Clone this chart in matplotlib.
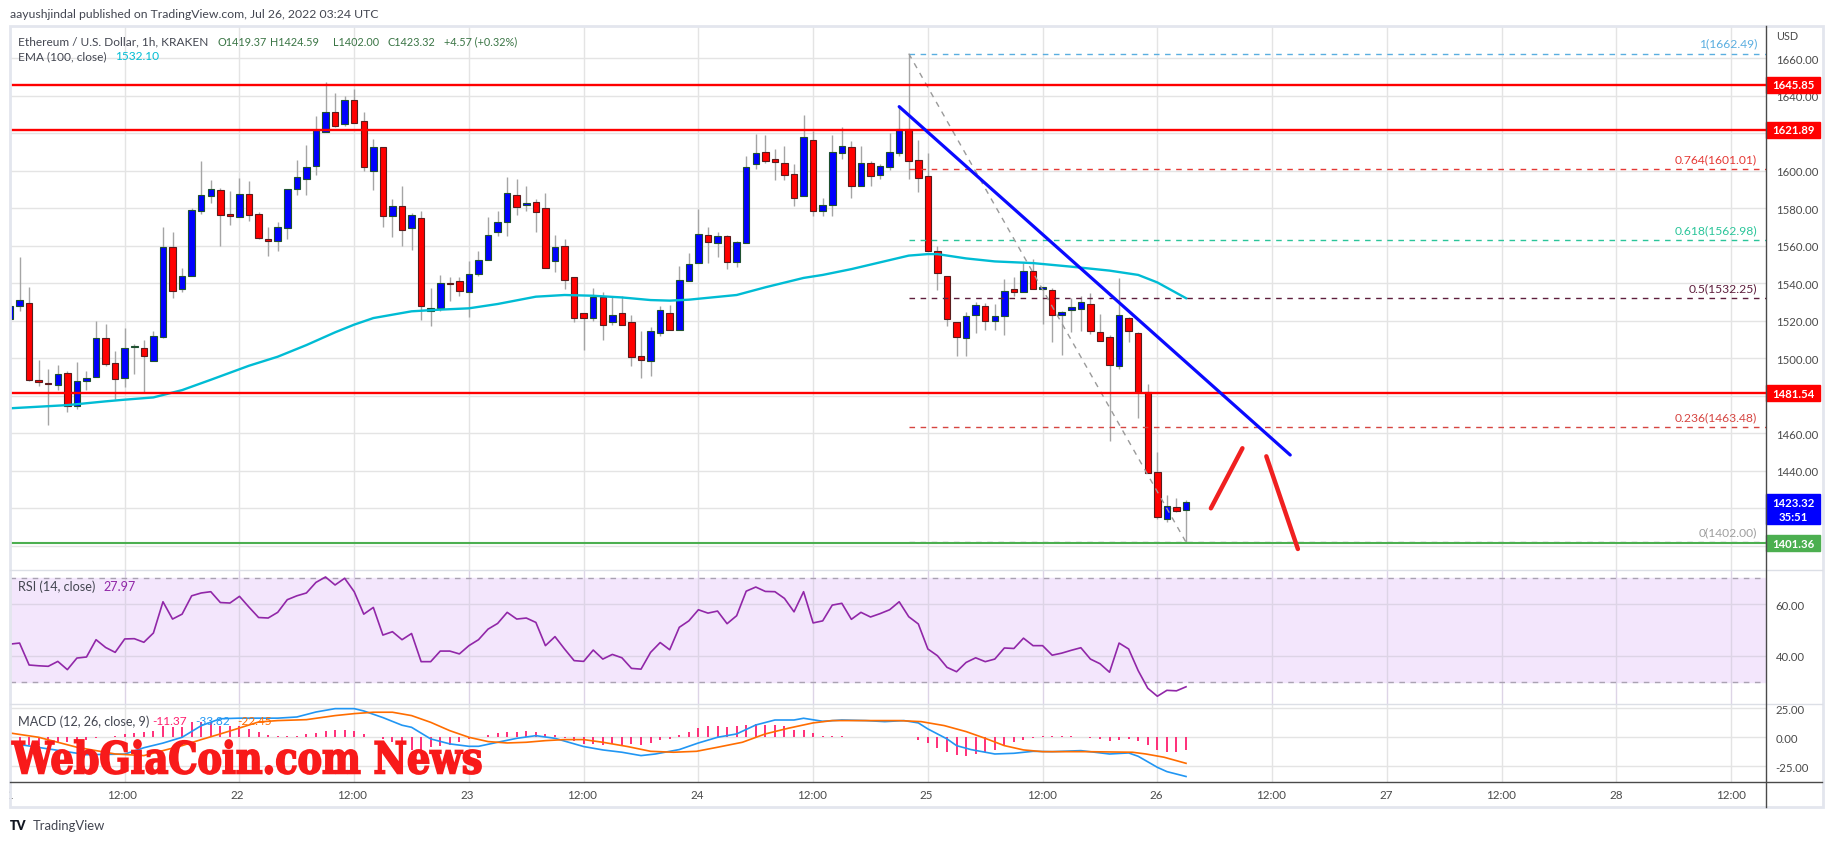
import numpy as np
import matplotlib.pyplot as plt
from matplotlib.patches import Rectangle, PathPatch
from matplotlib.lines import Line2D
from matplotlib.textpath import TextPath
from matplotlib.font_manager import FontProperties
from matplotlib import transforms as mtrans

W, H = 1834, 845

# hourly ETH/USD candles, 21 Jul 00:00 .. 26 Jul 03:00 (hour index from 21 Jul 00:00)
open_ = [1521.0, 1528.1, 1529.3, 1488.5, 1486.9, 1486.0, 1492.0, 1474.8, 1488.1, 1489.9,
         1510.8, 1497.4, 1489.4, 1505.9, 1505.4, 1498.8, 1511.6, 1559.2, 1537.0, 1544.1,
         1578.7, 1586.7, 1589.8, 1577.0, 1575.2, 1587.6, 1576.9, 1563.6, 1562.8, 1569.3,
         1590.3, 1595.6, 1602.4, 1620.5, 1631.2, 1625.0, 1637.9, 1626.7, 1600.1, 1612.5,
         1575.7, 1581.1, 1569.3, 1574.7, 1525.4, 1526.7, 1540.2, 1541.1, 1535.2, 1545.0,
         1552.4, 1567.2, 1572.5, 1587.1, 1582.0, 1583.2, 1580.0, 1551.7, 1559.7, 1543.2,
         1524.0, 1521.3, 1532.5, 1519.2, 1524.0, 1519.2, 1501.1, 1498.4, 1513.3, 1524.0,
         1515.3, 1541.1, 1550.7, 1565.8, 1561.3, 1565.1, 1551.2, 1561.5, 1603.4, 1609.8,
         1606.3, 1604.0, 1598.3, 1586.4, 1616.4, 1578.4, 1581.9, 1609.3, 1612.5, 1591.7,
         1604.0, 1597.9, 1601.9, 1609.3, 1622.3, 1605.8, 1597.0, 1557.4, 1544.1, 1519.6,
         1510.7, 1523.1, 1528.1, 1520.1, 1522.4, 1537.0, 1535.2, 1546.8, 1537.2, 1536.6,
         1523.1, 1525.9, 1526.3, 1529.0, 1513.9, 1511.2, 1496.1, 1521.3, 1513.5, 1482.2,
         1439.6, 1414.4, 1421.0, 1419.37]
high_ = [1530.0, 1553.9, 1537.9, 1499.1, 1494.3, 1496.5, 1493.4, 1497.9, 1493.1, 1519.7,
         1518.3, 1503.8, 1516.2, 1507.7, 1509.8, 1514.8, 1569.9, 1567.2, 1548.0, 1580.0,
         1605.4, 1595.1, 1591.0, 1589.4, 1596.2, 1594.6, 1577.9, 1569.8, 1572.5, 1590.3,
         1605.8, 1613.8, 1629.4, 1647.2, 1641.5, 1640.1, 1643.6, 1631.2, 1617.0, 1612.5,
         1585.0, 1592.1, 1577.5, 1578.7, 1537.3, 1544.4, 1543.2, 1543.2, 1552.1, 1557.1,
         1575.2, 1578.7, 1596.5, 1595.6, 1591.7, 1585.0, 1588.2, 1565.8, 1563.6, 1543.2,
         1524.0, 1537.3, 1535.2, 1533.1, 1533.1, 1523.1, 1514.8, 1516.9, 1528.1, 1528.5,
         1549.4, 1556.2, 1579.6, 1569.8, 1567.2, 1565.8, 1562.8, 1608.1, 1619.6, 1619.1,
         1611.6, 1613.0, 1603.6, 1629.7, 1621.4, 1585.3, 1619.3, 1623.2, 1616.1, 1613.0,
         1605.4, 1603.6, 1620.1, 1633.8, 1662.49, 1616.4, 1609.5, 1560.1, 1544.1, 1519.6,
         1524.5, 1529.9, 1529.5, 1529.0, 1542.3, 1543.2, 1550.7, 1553.0, 1538.0, 1537.3,
         1525.4, 1532.0, 1533.4, 1534.7, 1523.7, 1512.5, 1542.7, 1521.9, 1514.2, 1486.3,
         1449.9, 1427.2, 1425.4, 1424.59]
low_ = [1519.0, 1525.1, 1488.1, 1485.4, 1464.7, 1483.2, 1471.2, 1473.0, 1483.2, 1489.9,
        1495.8, 1478.3, 1484.6, 1491.7, 1482.2, 1498.8, 1510.7, 1532.0, 1535.2, 1544.1,
        1577.0, 1582.8, 1560.1, 1571.3, 1575.2, 1573.1, 1563.7, 1554.4, 1557.4, 1563.7,
        1587.3, 1587.3, 1597.9, 1620.5, 1623.2, 1623.7, 1625.5, 1600.1, 1590.0, 1569.9,
        1564.5, 1560.1, 1558.0, 1520.6, 1517.4, 1525.4, 1530.4, 1533.4, 1522.2, 1544.1,
        1552.4, 1565.4, 1565.4, 1576.4, 1578.7, 1567.6, 1548.0, 1545.9, 1537.0, 1519.6,
        1504.6, 1520.1, 1510.0, 1518.0, 1518.0, 1495.8, 1489.4, 1490.4, 1511.7, 1515.3,
        1515.3, 1541.1, 1550.7, 1550.7, 1554.2, 1547.6, 1548.5, 1561.5, 1601.0, 1604.1,
        1595.3, 1595.3, 1581.4, 1586.4, 1576.1, 1575.7, 1575.7, 1606.3, 1585.3, 1591.7,
        1592.1, 1595.6, 1600.6, 1608.1, 1595.6, 1588.5, 1557.4, 1536.6, 1517.4, 1501.4,
        1501.4, 1513.5, 1515.3, 1515.3, 1512.5, 1533.4, 1535.2, 1537.0, 1518.3, 1508.6,
        1501.8, 1513.9, 1514.8, 1513.0, 1509.1, 1456.1, 1494.3, 1508.6, 1468.0, 1438.7,
        1414.4, 1412.6, 1417.9, 1402.0]
close_ = [1528.1, 1530.9, 1488.7, 1487.2, 1486.2, 1491.7, 1474.8, 1488.1, 1489.5, 1510.8,
          1497.0, 1489.0, 1505.4, 1506.8, 1501.1, 1511.7, 1559.2, 1536.1, 1543.7, 1579.1,
          1587.1, 1590.3, 1576.6, 1576.1, 1587.6, 1576.6, 1564.0, 1562.8, 1569.8, 1590.3,
          1596.5, 1601.9, 1621.9, 1631.2, 1624.1, 1637.9, 1625.5, 1601.9, 1612.5, 1575.7,
          1581.1, 1568.6, 1576.6, 1527.7, 1526.7, 1540.0, 1539.6, 1535.7, 1545.0, 1552.4,
          1565.9, 1572.5, 1588.0, 1580.5, 1582.6, 1577.9, 1548.0, 1559.2, 1541.8, 1521.3,
          1521.3, 1532.5, 1518.0, 1523.3, 1518.0, 1500.6, 1499.3, 1514.4, 1525.8, 1515.3,
          1541.8, 1550.3, 1566.3, 1561.9, 1565.1, 1551.2, 1561.9, 1601.9, 1609.3, 1605.0,
          1604.5, 1598.0, 1585.3, 1617.8, 1578.7, 1581.9, 1609.8, 1613.0, 1591.7, 1604.0,
          1597.4, 1602.7, 1609.8, 1622.3, 1605.4, 1596.0, 1557.4, 1545.3, 1521.0, 1511.2,
          1522.8, 1528.6, 1520.1, 1522.8, 1536.1, 1535.2, 1546.8, 1537.0, 1537.4, 1523.1,
          1524.5, 1527.2, 1529.9, 1514.4, 1509.1, 1496.5, 1523.1, 1514.4, 1481.9, 1438.7,
          1415.3, 1421.5, 1418.8, 1423.32]

# EMA(100)
ema_hours = [0, 6, 10, 12, 15, 18, 21, 25, 28, 31, 34, 36, 38, 42, 45, 48, 51, 55, 58, 61,
             64, 67, 69, 71, 76, 79, 83, 85, 88, 91, 94, 96, 97, 100, 103, 107, 111, 115,
             118, 120, 123]
ema_vals = [1473.4, 1475.1, 1477.1, 1478.0, 1479.2, 1483.1, 1488.6, 1496.1, 1500.9, 1507.1,
            1513.9, 1518.0, 1521.5, 1525.1, 1526.0, 1526.7, 1529.0, 1532.9, 1533.8, 1533.4,
            1532.5, 1531.1, 1530.8, 1531.3, 1533.8, 1537.9, 1542.9, 1544.5, 1547.6, 1551.2,
            1554.8, 1555.6, 1555.6, 1553.3, 1551.7, 1550.8, 1548.9, 1546.8, 1544.5, 1540.5,
            1532.1]

# RSI(14), one value per candle
rsi = [44.5, 44.9, 36.4, 36.1, 35.9, 37.8, 34.6, 39.1, 39.5, 46.2,
       43.2, 41.3, 46.5, 46.6, 45.2, 48.8, 60.9, 54.2, 56.1, 63.2,
       64.3, 64.8, 60.6, 60.4, 63.0, 58.8, 54.8, 54.6, 56.8, 61.7,
       63.2, 64.3, 68.4, 70.5, 67.4, 70.0, 64.8, 56.1, 58.7, 48.0,
       49.3, 46.2, 48.6, 37.7, 37.7, 41.8, 41.8, 40.7, 43.9, 46.2,
       50.3, 52.5, 56.8, 54.2, 54.6, 52.9, 43.9, 47.4, 42.6, 38.1,
       37.8, 42.2, 38.7, 40.5, 39.2, 35.1, 34.8, 41.3, 45.1, 42.3,
       51.0, 53.5, 57.8, 56.5, 57.3, 52.4, 55.5, 65.0, 66.6, 64.9,
       64.8, 62.2, 57.0, 64.8, 52.7, 53.5, 59.6, 60.3, 54.1, 56.8,
       55.0, 56.3, 57.8, 60.9, 55.1, 52.3, 42.6, 40.0, 35.5, 33.8,
       37.4, 39.2, 37.7, 38.7, 43.0, 42.8, 46.8, 43.9, 43.9, 40.2,
       41.0, 42.1, 43.1, 38.7, 36.9, 33.6, 44.9, 42.6, 34.2, 27.4,
       24.3, 26.6, 26.4, 27.97]

# MACD(12, 26, 9)
macd_hours = [0, 4, 8, 12, 14, 16, 18, 20, 22, 24, 26, 28, 30, 32, 34, 36, 37, 39, 41, 42,
              44, 46, 48, 49, 51, 53, 55, 57, 60, 62, 64, 66, 67.5, 70, 72, 74, 76, 78, 80,
              82, 83, 85, 87, 89.5, 91.5, 93.5, 95, 96, 98, 99, 100.5, 103, 105, 107, 109,
              112, 115, 117, 118, 120, 121, 123]
macd_vals = [-5.0, -10.0, -15.0, -14.5, -9.0, -5.0, 0.0, 10.0, 16.0, 16.5, 16.5, 16.5, 17.5,
             21.8, 24.7, 24.7, 22.7, 17.0, 10.4, 8.6, -1.4, -5.7, -7.8, -7.8, -4.3, -0.9,
             1.4, -0.9, -8.0, -10.9, -12.9, -15.8, -14.4, -10.6, -4.9, 0.0, 2.9, 10.6, 14.9,
             14.9, 16.4, 13.8, 14.9, 14.4, 13.5, 14.4, 12.4, 7.2, -1.4, -7.2, -10.6, -14.4,
             -13.8, -12.1, -12.4, -11.5, -14.4, -13.5, -16.4, -25.9, -29.6, -33.82]
signal_hours = [0, 3, 7, 11, 14, 16, 18, 20, 22, 24, 26, 28, 31, 34, 36, 38, 40, 42, 44, 46,
                48, 50, 52, 54, 56, 58, 60, 62, 64.6, 67, 69.4, 71.8, 74, 76.6, 79, 81.4, 84,
                86, 88.6, 91, 93, 95.3, 97.7, 100, 102, 104, 106, 108, 112.6, 117.4, 118.8,
                120.7, 123]
signal_vals = [3.7, 0.0, -8.6, -14.4, -15.8, -11.5, -7.2, -2.0, 2.9, 8.0, 13.2, 14.4, 15.2,
               18.7, 20.4, 21.6, 21.6, 18.7, 12.9, 5.7, 0.0, -3.7, -4.9, -4.3, -2.9, -2.0,
               -2.0, -4.3, -8.0, -12.1, -12.9, -12.1, -8.6, -4.3, 2.9, 7.8, 12.4, 14.4, 14.4,
               14.4, 14.4, 13.5, 10.1, 4.9, -0.9, -7.2, -10.9, -12.4, -12.4, -12.9, -14.4,
               -17.2, -22.45]
hist = [-8, -8, -7, -7, -6, -5, -4, -3, -2, -1,
        0.5, 1.5, 2.9, 3.7, 4.3, 5.5, 10.1, 9.2, 9.2, 12.9,
        12.9, 12.9, 10.1, 10.1, 10.1, 7.2, 4.3, 2.0, 1.4, 1.4,
        1.4, 2.6, 3.7, 5.5, 6.0, 6.3, 5.7, 2.6, 0.6, -1.5,
        -4, -7, -10.6, -10.6, -8.6, -7.2, -6.3, -4.3, -1.4, 0.5,
        2, 3.7, 4.3, 4.3, 5.5, 4.9, 3.2, 2.0, -1.0, -3.5,
        -5.7, -5.7, -6.6, -5.7, -6.6, -5.7, -6.6, -4.9, -2.0, -1.4,
        2.0, 4.9, 7.8, 9.5, 9.5, 8.6, 10.1, 10.6, 11.5, 10.6,
        10.9, 9.5, 6.6, 6.6, 3.7, 0.9, 0.9, 1.4, 0.5, 0.5,
        0.5, 0.5, 0.5, 0.5, 0.5, -2.0, -4.9, -9.2, -12.4, -14.9,
        -15.8, -14.4, -12.9, -10.6, -7.2, -4.3, -2.0, -0.6, 0.9, 0.9,
        0.9, 0.9, 0.5, -0.6, -1.4, -2.9, -2.0, -1.4, -2.9, -6.6,
        -10.6, -12.4, -12.4, -11.37]

# horizontal levels and drawings
resist_levels = [1645.85, 1621.89, 1481.54]
support_level = 1401.36
fib_ratios = ['1', '0.764', '0.618', '0.5', '0.236', '0']
fib_prices = [1662.49, 1601.01, 1562.98, 1532.25, 1463.48, 1402.00]
fib_colors = ['#5aaee0', '#e53935', '#2bc59a', '#5e1f3d', '#d64541', '#9e9e9e']
fib_start = 94
swing_hours = [94, 123]
swing_prices = [1662.49, 1402.00]
trend_hours = [93.0, 133.9]
trend_prices = [1634.2, 1448.5]
path1_hours = [125.6, 128.9]
path1_prices = [1420.1, 1452.1]
path2_hours = [131.4, 134.7]
path2_prices = [1447.8, 1398.4]
last_price = 1423.32
ema_last = 1532.10

price_ticks = list(range(1400, 1661, 20))
grid_hours = list(range(0, 181, 12))
time_labels = ['21', '12:00', '22', '12:00', '23', '12:00', '24', '12:00',
               '25', '12:00', '26', '12:00', '27', '12:00', '28', '12:00']

UI = 'Lato'
GRID = '#e4e4e4'
TXT = '#4a4a4a'

fig = plt.figure(figsize=(W / 100, H / 100), dpi=100)
fig.patch.set_facecolor('white')


def pane(y0, y1, x0=10):
    return fig.add_axes([x0 / W, 1 - y1 / H, (1766 - x0) / W, (y1 - y0) / H])


ax = pane(27, 571)
ax_rsi = pane(571, 705)
ax_macd = pane(705, 782.7)
ax_time = pane(782.7, 808, x0=8.5)
xlim = (0.26, 183.66)

for a in [ax, ax_rsi, ax_macd, ax_time]:
    a.set_xlim(*xlim)
    for s in a.spines.values():
        s.set_visible(False)
    a.set_facecolor('white')
ax_time.set_xlim(0.104, 183.66)
for a in [ax, ax_rsi, ax_macd]:
    a.set_xticks(grid_hours)
    a.tick_params(axis='x', length=0, labelbottom=False)
    a.yaxis.tick_right()
    a.tick_params(axis='y', length=0, pad=7, labelsize=8.2, labelcolor=TXT)
    a.grid(True, color=GRID, lw=1)
    a.set_axisbelow(True)

# ---- price pane
ax.set_ylim(1387.2, 1677.2)
tagged = resist_levels + [support_level, last_price]
ax.set_yticks(price_ticks)
# the scale tags cover the tick labels that sit right under them
ax.set_yticklabels(['' if min(abs(p - t) for t in tagged) < 4 else '%.2f' % p
                    for p in price_ticks], fontfamily=UI)

hrs = np.arange(len(close_))
o = np.array(open_)
c = np.array(close_)
up = c >= o
body = np.maximum(np.abs(c - o), 0.6)
bot = np.minimum(o, c)
ax.vlines(hrs, low_, high_, color='#a5a5a5', lw=1, zorder=2)
ax.bar(hrs[up], body[up], bottom=bot[up], width=0.68, color='#0000ff',
       edgecolor='#1f5130', lw=0.8, zorder=3)
ax.bar(hrs[~up], body[~up], bottom=bot[~up], width=0.68, color='#ff0000',
       edgecolor='#5a1d1d', lw=0.8, zorder=3)

ax.plot(ema_hours, ema_vals, color='#00bcd4', lw=1.7, zorder=4)

for lv in resist_levels:
    ax.axhline(lv, color='#ff0000', lw=1.7, zorder=5)
ax.axhline(support_level, color='#4caf50', lw=1.5, zorder=5)

xr = xlim[1]
lab_tr = mtrans.offset_copy(mtrans.blended_transform_factory(ax.transAxes, ax.transData),
                            fig=fig, y=10.5, units='dots')
for r, p, col in zip(fib_ratios, fib_prices, fib_colors):
    ax.hlines(p, fib_start, xr, colors=col, lw=1, linestyles=(0, (4, 4)), zorder=4)
    ax.text(0.9949, p, '%s(%.2f)' % (r, p), transform=lab_tr, ha='right', va='center',
            color=col, fontsize=8.7, fontfamily=UI, zorder=6)
ax.plot(swing_hours, swing_prices, color='#9a9a9a', lw=1, ls=(0, (4, 4)), zorder=4)

ax.plot(trend_hours, trend_prices, color='#0a0aff', lw=2.3, zorder=6, solid_capstyle='round')
ax.plot(path1_hours, path1_prices, color='#f02020', lw=3.2, zorder=6, solid_capstyle='round')
ax.plot(path2_hours, path2_prices, color='#f02020', lw=3.2, zorder=6, solid_capstyle='round',
        clip_on=False)

# price-scale tags
tag_tr = mtrans.blended_transform_factory(ax.transAxes, ax.transData)
tag_w = 54 / 1756
tag_h = 16 / 1.876


def tag(p, col, txt, top=None, bottom=None):
    t = p + tag_h / 2 if top is None else top
    b = p - tag_h / 2 if bottom is None else bottom
    ax.add_patch(Rectangle((1.0, b), tag_w, t - b, transform=tag_tr, color=col,
                           clip_on=False, zorder=10))
    ax.text(1.0 + tag_w / 2, p, txt, transform=tag_tr, ha='center', va='center',
            color='white', fontsize=8.2, fontweight='bold', fontfamily=UI,
            clip_on=False, zorder=11)


for lv in resist_levels:
    tag(lv, '#ff0000', '%.2f' % lv)
tag(support_level, '#4caf50', '%.2f' % support_level)
tag(last_price, '#0000ff', '%.2f' % last_price, top=last_price + 4.4, bottom=last_price - 11.6)
ax.text(1.0 + tag_w / 2, last_price - 7.4, '35:51', transform=tag_tr, ha='center',
        va='center', color='white', fontsize=8.2, fontweight='bold', fontfamily=UI,
        clip_on=False, zorder=11)

# ---- RSI pane
ax_rsi.set_ylim(21.3, 73.2)
ax_rsi.set_yticks([40, 60])
ax_rsi.set_yticklabels(['40.00', '60.00'], fontfamily=UI)
ax_rsi.axhspan(30, 70, color='#f3e6fc', zorder=0.5)
for lv in [30, 70]:
    ax_rsi.axhline(lv, color='#aaa2b2', lw=1, ls=(0, (4, 4)), zorder=1)
ax_rsi.grid(True, color='#ddd4e6', lw=1)
ax_rsi.plot(hrs, rsi, color='#9127a8', lw=1.2, zorder=3)

# ---- MACD pane
ax_macd.set_ylim(-38.3, 28.7)
ax_macd.set_yticks([-25, 0, 25])
ax_macd.set_yticklabels(['-25.00', '0.00', '25.00'], fontfamily=UI)
ax_macd.vlines(hrs, 0, hist, color='#ff1f6e', lw=1.3, zorder=2)
ax_macd.plot(macd_hours, macd_vals, color='#2196f3', lw=1.2, zorder=3)
ax_macd.plot(signal_hours, signal_vals, color='#ff6d00', lw=1.2, zorder=3)

# ---- time axis
ax_time.set_ylim(0, 1)
ax_time.set_xticks([])
ax_time.set_yticks([])
for hh, lab in zip(grid_hours, time_labels):
    ax_time.text(hh, 0.5, lab, ha='center', va='center', fontsize=8.4, color=TXT,
                 fontfamily=UI, clip_on=True)


# ---- frame and separators (figure pixels, top-down)
def hline(y, x0, x1, col, lw=1):
    fig.add_artist(Line2D([x0 / W, x1 / W], [1 - y / H, 1 - y / H], color=col, lw=lw,
                          transform=fig.transFigure, zorder=20))


def vline(x, y0, y1, col, lw=1):
    fig.add_artist(Line2D([x / W, x / W], [1 - y0 / H, 1 - y1 / H], color=col, lw=lw,
                          transform=fig.transFigure, zorder=20))


fig.add_artist(Rectangle((10 / W, 1 - 808 / H), 1813 / W, 781 / H, fill=False,
                         edgecolor='#e3e6ee', lw=2, transform=fig.transFigure, zorder=19))
hline(571, 10, 1822, '#dcdfe6')
hline(705, 10, 1822, '#dcdfe6')
fig.add_artist(Rectangle((1767 / W, 1 - 705 / H), 54 / W, 8 / H, color='white',
                         transform=fig.transFigure, zorder=18))
hline(782.7, 10, 1822, '#4a4a4a')
vline(1766, 27, 808, '#4a4a4a')


# ---- legends
def ftxt(x, y, s, col, size=9.1, **kw):
    fig.text(x / W, 1 - y / H, s, color=col, fontsize=size, fontfamily=UI,
             va='center', ha='left', zorder=30, **kw)


ftxt(10, 14, 'aayushjindal published on TradingView.com, Jul 26, 2022 03:24 UTC', '#434651', 8.8)
ftxt(18, 42, 'Ethereum / U.S. Dollar, 1h, KRAKEN', '#434651', 8.6)
vals = ['O%.2f' % open_[-1], 'H%.2f' % high_[-1], 'L%.2f' % low_[-1], 'C%.2f' % close_[-1],
        '+4.57 (+0.32%)']
for xx, s in zip([218, 270, 333, 388, 444], vals):
    ftxt(xx, 42, s, '#3a7545', 7.8)
ftxt(18, 57, 'EMA (100, close)', '#434651', 8.6)
ftxt(115, 57, '%.2f' % ema_last, '#00bcd4', 8.6)
ftxt(18, 587, 'RSI (14, close)', '#434651')
ftxt(103, 587, '%.2f' % rsi[-1], '#9127a8', 9.1)
ftxt(18, 722, 'MACD (12, 26, close, 9)', '#434651')
ftxt(152, 722, '%.2f' % hist[-1], '#ff1f6e', 8.6)
ftxt(195, 722, '%.2f' % macd_vals[-1], '#2196f3', 8.6)
ftxt(237, 722, '%.2f' % signal_vals[-1], '#ff6d00', 8.6)
ftxt(1776, 37, 'USD', TXT, 7.8)

# TradingView footer
ftxt(10, 826, 'TV', '#131722', 9, fontweight='heavy')
ftxt(33, 826, 'TradingView', '#434651', 9.4)

# watermark
fp = FontProperties(family='DejaVu Serif', weight='bold')
tp = TextPath((0, 0), 'WebGiaCoin.com News', size=100, prop=fp)
ext = tp.get_extents()
x0, x1, ytop, ybase = 12, 481, 741, 775
sx = (x1 - x0) / ext.width
sy = (ybase - ytop) / ext.height
tr = mtrans.Affine2D().translate(-ext.x0, -ext.y0).scale(sx, sy).translate(x0, H - ybase)
fig.add_artist(PathPatch(tr.transform_path(tp), facecolor='#f81a1a', edgecolor='#f81a1a',
                         lw=1.3, transform=mtrans.IdentityTransform(), zorder=40))

fig.savefig('out.png', dpi=100, facecolor='white')
